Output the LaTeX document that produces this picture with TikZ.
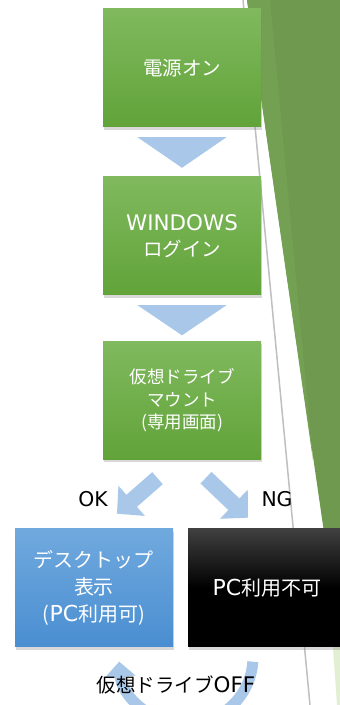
\documentclass[tikz,border=0pt]{standalone}
\usepackage{fontspec}
\setmainfont{Noto Sans CJK JP}
\newfontfamily\lat[Scale=1.1]{DejaVu Sans}
\usetikzlibrary{calc,arrows.meta,shadows}
\definecolor{slidegreen}{HTML}{6F994F}
\definecolor{bandgreen}{HTML}{73A052}
\definecolor{palegreen}{HTML}{E3EFD3}
\definecolor{boxtop}{HTML}{80B95E}
\definecolor{boxbottom}{HTML}{61A339}
\definecolor{desktop}{HTML}{70A9DE}
\definecolor{deskbottom}{HTML}{4A8ED1}
\definecolor{flowblue}{HTML}{A9C8E9}

\begin{document}
\begin{tikzpicture}[x=1pt,y=1pt]
\tikzstyle{stepbox}=[rectangle,minimum width=158pt,minimum height=118pt,inner sep=0pt,align=center,text=white,font=\fontsize{19.5}{25.7}\selectfont,drop shadow={shadow xshift=1pt,shadow yshift=-3pt,opacity=0.3}]
\tikzstyle{greenbox}=[stepbox,top color=boxtop,bottom color=boxbottom]
\tikzstyle{downarrow}=[fill=flowblue]
\tikzstyle{blockarrow}=[draw=flowblue,line width=16pt,-{Triangle[width=39pt,length=19.5pt]}]
\tikzstyle{looparrow}=[draw=flowblue,line width=11pt,-{Triangle[width=30pt,length=15pt]}]
\tikzstyle{caption}=[font=\fontsize{18.5}{22}\selectfont\lat,text=black]

\useasboundingbox (0,0) rectangle (340,705);
\fill[white] (0,0) rectangle (340,705);

% slide decoration
\fill[palegreen] (330,100) -- (340,100) -- (340,0) -- (337,0) -- cycle;
\fill[slidegreen] (247,705) -- (340,705) -- (340,62) -- cycle;
\fill[bandgreen] (247,705) -- (270,705) -- (313,245) -- cycle;
\draw[black!25,line width=1.5pt] (243,705) -- (310,0);

\node[greenbox] (poweron) at (182,637) {電源オン};
\node[greenbox] (login) at (182,469) {{\lat WINDOWS}\\ログイン};
\node[greenbox,font=\fontsize{17.5}{22.5}\selectfont] (mount) at (182,304.5) {仮想ドライブ\\マウント\\(専用画面)};
\node[stepbox,top color=desktop,bottom color=deskbottom,font=\fontsize{20}{26.7}\selectfont] (desk) at (94,117) {デスクトップ\\表示\\({\lat PC}利用可)};
\node[stepbox,top color=black!75,bottom color=black,middle color=black,font=\fontsize{20}{26}\selectfont] (ngbox) at (267,117) {{\lat PC}利用不可};

\fill[downarrow] ($(poweron.south)+(-44.5,-10)$) -- ($(poweron.south)+(44.5,-10)$) -- ($(login.north)+(0,9)$) -- cycle;
\fill[downarrow] ($(login.south)+(-44.5,-10)$) -- ($(login.south)+(44.5,-10)$) -- ($(mount.north)+(0,6)$) -- cycle;

\draw[blockarrow] ($(mount.south)+(-24.5,-18.5)$) -- ($(mount.south)+(-65,-54)$);
\draw[blockarrow] ($(mount.south)+(24,-18)$) -- ($(mount.south)+(66,-58)$);
\node[caption] (ok) at (93,206) {OK};
\node[caption] (ng) at (277,206) {NG};

\coordinate (loop) at (186,48);
\draw[looparrow] ($(loop)+(-4:67)$) arc[start angle=-4,end angle=-176,radius=67];
\node[font=\fontsize{19.5}{24}\selectfont] (driveoff) at (176,20) {仮想ドライブ{\lat OFF}};

\end{tikzpicture}
\end{document}
